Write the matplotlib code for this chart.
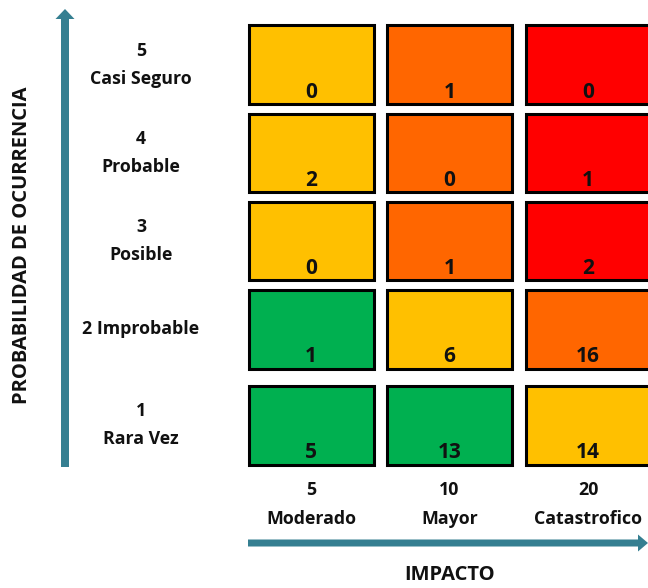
import numpy as np
import matplotlib.pyplot as plt
from matplotlib.patches import Rectangle, FancyArrow

plt.rcParams['font.family'] = ['Open Sans', 'DejaVu Sans']
plt.rcParams['font.weight'] = 'bold'

# Probability levels (rows, bottom to top) and impact levels (columns)
prob_values = [1, 2, 3, 4, 5]
prob_labels = ['1\nRara Vez', '2 Improbable', '3\nPosible', '4\nProbable', '5\nCasi Seguro']
impact_values = [5, 10, 20]
impact_labels = ['5\nModerado', '10\nMayor', '20\nCatastrofico']

# Number of risks in each cell, one list per probability level
counts = [
    [5, 13, 14],
    [1, 6, 16],
    [0, 1, 2],
    [2, 0, 1],
    [0, 1, 0],
]

# Score thresholds -> zone colours (low, moderate, high, extreme)
score_bins = [12, 28, 55]
zone_colors = ['#00B050', '#FFC000', '#FF6600', '#FF0000']
arrow_color = '#357F91'

W, H = 648, 588
fig = plt.figure(figsize=(W / 100, H / 100), dpi=100)

# Grid axes: one unit per column / row, extra gap above the bottom row
cell_w, cell_h = 0.925, 0.93
row_gap = 0.09
ax = fig.add_axes([247 / W, (H - 466) / H, 3 * 138.5 / W, 442 / H])
ax.set_xlim(0, 3)
ax.set_ylim(0, 4 + row_gap + cell_h)
ax.axis('off')

def row_bottom(i):
    return i + (row_gap if i > 0 else 0)

for i, p in enumerate(prob_values):
    y0 = row_bottom(i)
    for j, imp in enumerate(impact_values):
        score = p * imp
        color = zone_colors[np.digitize(score, score_bins)]
        ax.add_patch(Rectangle((j + 0.011, y0 + 0.017), cell_w - 0.022, cell_h - 0.034,
                               facecolor=color, edgecolor='black', linewidth=2.2,
                               clip_on=False))
        ax.text(j + cell_w / 2, y0 + 0.09, str(counts[i][j]), ha='center',
                va='baseline', fontsize=15, fontweight='bold', color='#111111')
    # row label to the left of the grid
    ax.text(-0.765, y0 + cell_h / 2, prob_labels[i], ha='center', va='center',
            fontsize=12.8, fontweight='bold', linespacing=1.72, color='#111111',
            clip_on=False)

for j, lab in enumerate(impact_labels):
    ax.text(j + cell_w / 2, -0.44, lab, ha='center', va='center', fontsize=12.8,
            fontweight='bold', linespacing=1.78, color='#111111', clip_on=False)

# Overlay in figure pixels for the axis arrows and titles
ov = fig.add_axes([0, 0, 1, 1], zorder=-1)
ov.set_xlim(0, W)
ov.set_ylim(H, 0)
ov.axis('off')
ov.add_patch(FancyArrow(65, 467, 0, -458, width=8, head_width=19, head_length=10,
                        length_includes_head=True, color=arrow_color, linewidth=0))
ov.add_patch(FancyArrow(248, 543, 400, 0, width=7, head_width=17, head_length=10,
                        length_includes_head=True, color=arrow_color, linewidth=0))
ov.text(22, 245, 'PROBABILIDAD DE OCURRENCIA', rotation=90, ha='center',
        va='center', fontsize=14.5, fontweight='bold', color='#111111')
ov.text(450, 575, 'IMPACTO', ha='center', va='center', fontsize=14.5,
        fontweight='bold', color='#111111')

fig.savefig('out.png', dpi=100)
